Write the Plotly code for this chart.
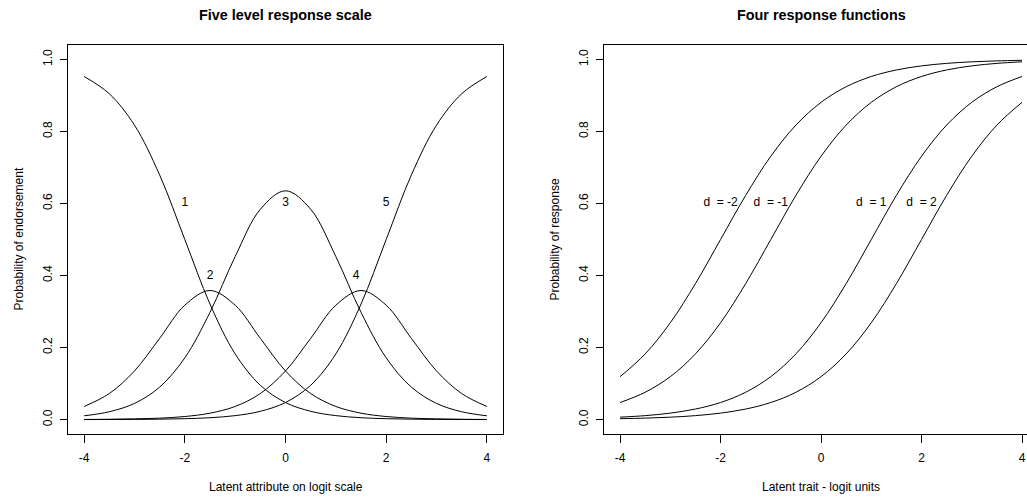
import plotly.graph_objects as go

# ---------------- data ----------------
x_vals = [-4, -3.5, -3, -2.5, -2, -1.5, -1, -0.5, 0, 0.5, 1, 1.5, 2, 2.5, 3, 3.5, 4]

# Left panel: five category response curves
cat1 = [0.9526, 0.9047, 0.8176, 0.6792, 0.5, 0.3208, 0.1824, 0.0953, 0.0474, 0.0230, 0.0110, 0.0052, 0.0025, 0.0012, 0.0005, 0.0003, 0.0001]
cat2 = [0.0364, 0.0723, 0.1350, 0.2255, 0.3176, 0.3584, 0.3176, 0.2255, 0.1350, 0.0723, 0.0364, 0.0178, 0.0085, 0.0040, 0.0020, 0.0009, 0.0004]
cat3 = [0.0105, 0.0218, 0.0449, 0.0901, 0.1714, 0.2978, 0.4526, 0.5839, 0.6352, 0.5839, 0.4526, 0.2978, 0.1714, 0.0901, 0.0449, 0.0218, 0.0105]
cat4 = [0.0004, 0.0009, 0.0020, 0.0040, 0.0085, 0.0178, 0.0364, 0.0723, 0.1350, 0.2255, 0.3176, 0.3584, 0.3176, 0.2255, 0.1350, 0.0723, 0.0364]
cat5 = [0.0001, 0.0003, 0.0005, 0.0012, 0.0025, 0.0052, 0.0110, 0.0230, 0.0474, 0.0953, 0.1824, 0.3208, 0.5, 0.6792, 0.8176, 0.9047, 0.9526]
cat_labels = ["1", "2", "3", "4", "5"]
cat_label_x = [-2, -1.5, 0, 1.4, 2]
cat_label_y = [0.6, 0.4, 0.6, 0.4, 0.6]

# Right panel: four response functions
d_m2 = [0.1192, 0.1824, 0.2689, 0.3775, 0.5, 0.6225, 0.7311, 0.8176, 0.8808, 0.9241, 0.9526, 0.9707, 0.9820, 0.9890, 0.9933, 0.9959, 0.9975]
d_m1 = [0.0474, 0.0759, 0.1192, 0.1824, 0.2689, 0.3775, 0.5, 0.6225, 0.7311, 0.8176, 0.8808, 0.9241, 0.9526, 0.9707, 0.9820, 0.9890, 0.9933]
d_p1 = [0.0067, 0.0110, 0.0180, 0.0293, 0.0474, 0.0759, 0.1192, 0.1824, 0.2689, 0.3775, 0.5, 0.6225, 0.7311, 0.8176, 0.8808, 0.9241, 0.9526]
d_p2 = [0.0025, 0.0041, 0.0067, 0.0110, 0.0180, 0.0293, 0.0474, 0.0759, 0.1192, 0.1824, 0.2689, 0.3775, 0.5, 0.6225, 0.7311, 0.8176, 0.8808]
d_labels = ["d\u00a0 = -2", "d\u00a0 = -1", "d\u00a0 = 1", "d\u00a0 = 2"]
d_label_x = [-2, -1, 1, 2]
d_label_y = [0.6, 0.6, 0.6, 0.6]

x_ticks = [-4, -2, 0, 2, 4]
x_tick_text = ["-4", "-2", "0", "2", "4"]
y_ticks = [0, 0.2, 0.4, 0.6, 0.8, 1.0]
y_tick_text = ["0.0", "0.2", "0.4", "0.6", "0.8", "1.0"]

titles = ["Five level response scale", "Four response functions"]
x_titles = ["Latent attribute on logit scale", "Latent trait - logit units"]
y_titles = ["Probability of endorsement", "Probability of response"]

# ---------------- figure ----------------
W, H = 1027, 497
FONT = "Liberation Sans, Arial, Helvetica, sans-serif"

fig = go.Figure()
line = dict(color="black", width=1, shape="spline", smoothing=1)
for ys in [cat1, cat2, cat3, cat4, cat5]:
    fig.add_trace(go.Scatter(x=x_vals, y=ys, mode="lines", line=line, xaxis="x", yaxis="y", hoverinfo="skip"))
for ys in [d_m2, d_m1, d_p1, d_p2]:
    fig.add_trace(go.Scatter(x=x_vals, y=ys, mode="lines", line=line, xaxis="x2", yaxis="y2", hoverinfo="skip"))

fig.add_trace(go.Scatter(x=cat_label_x, y=cat_label_y, text=cat_labels, mode="text",
                         textfont=dict(family=FONT, size=12, color="black"), xaxis="x", yaxis="y", hoverinfo="skip"))
fig.add_trace(go.Scatter(x=d_label_x, y=d_label_y, text=d_labels, mode="text",
                         textfont=dict(family=FONT, size=12, color="black"), xaxis="x2", yaxis="y2", hoverinfo="skip"))

# pixel geometry
L1, R1 = 68, 503
L2, R2 = 604, 1027
TOP, BOT = 45, 434

def px(v):
    return v / W

def py(v):
    return 1 - v / H

common_x = dict(showgrid=False, zeroline=False, showline=True, linecolor="black", linewidth=1,
                ticks="outside", ticklen=8, tickcolor="black", tickwidth=1,
                tickvals=x_ticks, ticktext=x_tick_text, ticklabelstandoff=5,
                tickfont=dict(family=FONT, size=12, color="black"), fixedrange=True)
common_y = dict(showgrid=False, zeroline=False, showline=True, linecolor="black", linewidth=1,
                ticks="outside", ticklen=7, tickcolor="black", tickwidth=1,
                tickvals=y_ticks, ticktext=y_tick_text, tickangle=-90, range=[-0.04, 1.04],
                ticklabelstandoff=3,
                tickfont=dict(family=FONT, size=12, color="black"), fixedrange=True)

fig.update_layout(
    width=W, height=H,
    margin=dict(l=0, r=0, t=0, b=0),
    paper_bgcolor="white", plot_bgcolor="white",
    showlegend=False,
    xaxis=dict(common_x, domain=[px(L1), px(R1)], range=[-4.32, 4.32], anchor="y", mirror=True),
    yaxis=dict(common_y, domain=[py(BOT), py(TOP)], anchor="x", mirror=True),
    xaxis2=dict(common_x, domain=[px(L2), px(R2)], range=[-4.32, 4.0995], anchor="y2", mirror=True),
    yaxis2=dict(common_y, domain=[py(BOT), py(TOP)], anchor="x2", mirror=False),
)

ann = []
centers = [(L1 + R1) / 2, 821]
for i in range(2):
    ann.append(dict(text="<b>" + titles[i] + "</b>", x=px(centers[i]), y=py(15), xref="paper", yref="paper",
                    showarrow=False, xanchor="center", yanchor="middle",
                    font=dict(family=FONT, size=14.4, color="black")))
    ann.append(dict(text=x_titles[i], x=px(centers[i]), y=py(487), xref="paper", yref="paper",
                    showarrow=False, xanchor="center", yanchor="middle",
                    font=dict(family=FONT, size=12, color="black")))
ann.append(dict(text=y_titles[0], x=px(18), y=py((TOP + BOT) / 2), xref="paper", yref="paper",
                showarrow=False, xanchor="center", yanchor="middle", textangle=-90,
                font=dict(family=FONT, size=12, color="black")))
ann.append(dict(text=y_titles[1], x=px(L2 - 50), y=py((TOP + BOT) / 2), xref="paper", yref="paper",
                showarrow=False, xanchor="center", yanchor="middle", textangle=-90,
                font=dict(family=FONT, size=12, color="black")))
fig.update_layout(annotations=ann)

fig.write_html("out.html", config={"displayModeBar": False})
